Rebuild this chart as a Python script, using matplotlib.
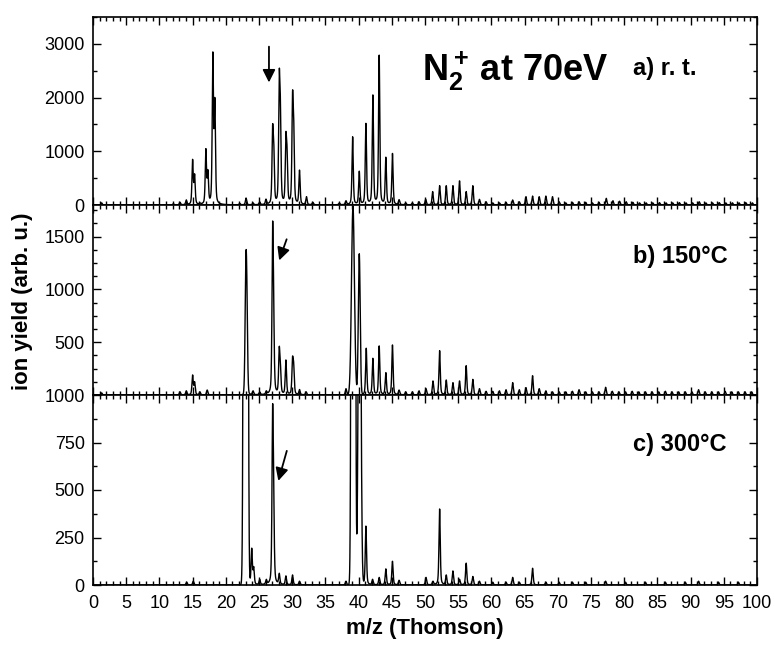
import numpy as np
import matplotlib.pyplot as plt
import matplotlib.ticker as ticker

plt.rcParams['font.family'] = ['Liberation Sans', 'DejaVu Sans']
plt.rcParams['mathtext.fontset'] = 'custom'
plt.rcParams['mathtext.rm'] = 'Liberation Sans'
plt.rcParams['mathtext.bf'] = 'Liberation Sans:bold'

# a) room temperature: peak position (m/z) and apex height
mz_a = [1.3, 12.1, 13.1, 14.05, 15.0, 15.3, 16.1, 17.0, 17.3, 18.05, 18.35, 19.1,
        22.1, 23.05, 24.1, 25.1, 26.05, 27.05, 27.22, 28.05, 28.22, 29.05, 29.22,
        30.05, 30.22, 31.1, 32.15, 33.1, 37.1, 38.1, 39.1, 40.1, 41.1, 42.15, 43.1,
        44.1, 45.1, 46.1, 47.1, 48.1, 49.1, 50.1, 51.15, 52.2, 53.2, 54.2, 55.2,
        56.2, 57.2, 58.2, 59.2, 60.2, 61.2, 62.2, 63.2, 64.2, 65.2, 66.2, 67.2,
        68.2, 69.2, 70.2, 71.2, 72.2, 73.2, 74.2, 75.2, 76.2, 77.3, 78.3, 79.3,
        80.3, 81.3, 82.3, 83.3, 84.3, 85.3, 86.3, 87.3, 88.3, 89.3, 90.3, 91.3,
        92.3, 93.3, 94.3, 95.3, 96.3, 97.3, 98.3, 99.3]
h_a = [40, 25, 50, 95, 850, 580, 40, 1050, 660, 2850, 2000, 30,
       30, 130, 40, 60, 110, 1490, 1210, 2510, 1990, 1350, 1090,
       2110, 1700, 650, 155, 50, 40, 80, 1270, 630, 1520, 2050, 2790,
       890, 960, 100, 40, 40, 60, 105, 250, 360, 360, 360, 450,
       250, 360, 105, 60, 40, 40, 50, 93, 60, 155, 166, 155,
       166, 155, 60, 40, 50, 60, 50, 40, 50, 124, 80, 70,
       60, 50, 40, 40, 40, 45, 40, 40, 45, 40, 40, 60,
       40, 40, 45, 40, 40, 40, 45, 40]

# b) 150 degC
mz_b = [1.3, 13.1, 14.05, 15.0, 15.3, 16.1, 17.2, 23.05, 23.22, 24.1, 25.1, 26.1,
        27.05, 27.2, 28.05, 28.22, 29.05, 30.05, 30.22, 31.1, 32.1, 38.1, 39.15,
        40.1, 41.15, 42.15, 43.1, 44.1, 45.1, 46.1, 47.1, 48.1, 49.1, 50.15, 51.2,
        52.2, 53.2, 54.2, 55.2, 56.2, 57.2, 58.2, 59.2, 60.2, 61.2, 62.2, 63.2,
        64.2, 65.2, 66.2, 67.2, 68.2, 69.2, 70.2, 71.2, 72.2, 73.2, 74.2, 75.2,
        76.2, 77.2, 78.2, 79.2, 80.2, 81.2, 82.2, 83.2, 84.2, 85.2, 86.2, 87.2,
        88.2, 89.2, 90.2, 91.2, 92.2, 93.2, 94.2, 95.2, 96.2, 97.2, 98.2, 99.2]
h_b = [20, 30, 40, 190, 126, 30, 47, 1370, 876, 40, 30, 40,
       1635, 1060, 458, 316, 332, 363, 310, 52, 30, 60, 1790,
       1338, 443, 348, 465, 212, 474, 47, 30, 30, 40, 60, 133,
       420, 142, 117, 133, 278, 148, 60, 35, 35, 40, 50, 117,
       50, 70, 183, 60, 40, 30, 30, 30, 35, 50, 30, 30,
       30, 73, 35, 30, 30, 35, 30, 30, 30, 30, 35, 30,
       30, 30, 30, 50, 30, 30, 30, 35, 30, 30, 30, 30]
wide_b = {23.05: 0.13, 39.15: 0.22, 40.1: 0.14}

# c) 300 degC
mz_c = [14.1, 15.1, 23.0, 23.9, 24.2, 25.1, 26.1, 27.05, 27.2, 28.05, 29.05, 30.05,
        31.1, 38.1, 39.2, 40.15, 41.1, 42.1, 43.1, 44.1, 45.1, 46.1, 50.15, 51.2,
        52.2, 53.2, 54.2, 55.2, 56.2, 57.2, 58.2, 60.2, 62.2, 63.2, 64.2, 66.2,
        68.2, 70.2, 72.2, 74.2, 77.2, 80.2, 83.2, 86.2, 89.2, 91.2, 94.2, 97.2]
h_c = [15, 20, 30000, 194, 97, 30, 30, 946, 620, 62, 48, 53,
       20, 20, 25000, 2500, 310, 30, 40, 85, 125, 25, 40, 20,
       400, 53, 74, 30, 115, 45, 20, 15, 15, 40, 15, 88,
       15, 15, 15, 15, 20, 15, 15, 15, 15, 20, 15, 15]
wide_c = {23.0: 0.17, 39.2: 0.16, 40.15: 0.18}

mz_grid = np.linspace(0, 100, 20001)


def line_shape(d, s, eta):
    u = d / s
    return (1 - eta) * np.exp(-0.5 * u ** 2) + eta / (1 + u ** 2)


def spectrum(mz, h, width=0.1, wide={}):
    mz = np.asarray(mz, float)
    s = np.array([wide.get(m, width) for m in mz])
    eta = np.array([0.0 if m in wide else 0.5 for m in mz])
    g = line_shape(mz[:, None] - mz[None, :], s[None, :], eta[None, :])
    amp = np.clip(np.linalg.solve(g, np.asarray(h, float)), 0, None)
    prof = line_shape(mz_grid[:, None] - mz[None, :], s[None, :], eta[None, :])
    return prof @ amp


fig = plt.figure(figsize=(7.75, 6.49), dpi=100)
left, width = 93 / 775, 664 / 775
ax1 = fig.add_axes([left, 1 - 205 / 649, width, 188 / 649])
ax2 = fig.add_axes([left, 1 - 395 / 649, width, 190 / 649])
ax3 = fig.add_axes([left, 1 - 585 / 649, width, 190 / 649])

panels = [(ax1, spectrum(mz_a, h_a), 3500, 500, [0, 1000, 2000, 3000]),
          (ax2, spectrum(mz_b, h_b, wide=wide_b), 1800, 125, [500, 1000, 1500]),
          (ax3, spectrum(mz_c, h_c, wide=wide_c), 1000, 125, [0, 250, 500, 750, 1000])]

for ax, y, ymax, minor, ticks in panels:
    ax.plot(mz_grid, y, color='black', lw=1.0)
    ax.set_xlim(0, 100)
    ax.set_ylim(0, ymax)
    ax.xaxis.set_major_locator(ticker.MultipleLocator(5))
    ax.xaxis.set_minor_locator(ticker.MultipleLocator(1))
    ax.set_yticks(ticks)
    ax.yaxis.set_minor_locator(ticker.MultipleLocator(minor))
    ax.tick_params(which='both', direction='in', top=True, right=True,
                   width=1.0, labelsize=13)
    ax.tick_params(which='major', length=6)
    ax.tick_params(which='minor', length=3)
    ax.tick_params(axis='y', pad=6)
    ax.tick_params(axis='x', pad=7)
    for sp in ax.spines.values():
        sp.set_linewidth(1.2)
    if ax is not ax3:
        ax.tick_params(labelbottom=False)

arrow = dict(arrowstyle='-|>', color='black', lw=1.3, mutation_scale=19)
ax1.annotate('', xy=(26.5, 2230), xytext=(26.5, 3000), arrowprops=arrow)
ax2.annotate('', xy=(27.9, 1250), xytext=(29.3, 1500), arrowprops=arrow)
ax3.annotate('', xy=(27.8, 534), xytext=(29.3, 720), arrowprops=arrow)

ax1.text(49.5, 2300, r'$\mathbf{N_2^+}\,$at 70eV', fontsize=26, fontweight='bold')
ax1.text(81.3, 2420, 'a) r. t.', fontsize=17, fontweight='bold')
ax2.text(81.3, 1255, 'b) 150°C', fontsize=17, fontweight='bold')
ax3.text(81.3, 705, 'c) 300°C', fontsize=17, fontweight='bold')

fig.text(0.0284, 0.536, 'ion yield (arb. u.)', rotation=90, ha='center', va='center',
         fontsize=16, fontweight='bold')
fig.text(0.548, 0.032, 'm/z (Thomson)', ha='center', va='center',
         fontsize=16, fontweight='bold')

fig.savefig('out.png', dpi=100)
